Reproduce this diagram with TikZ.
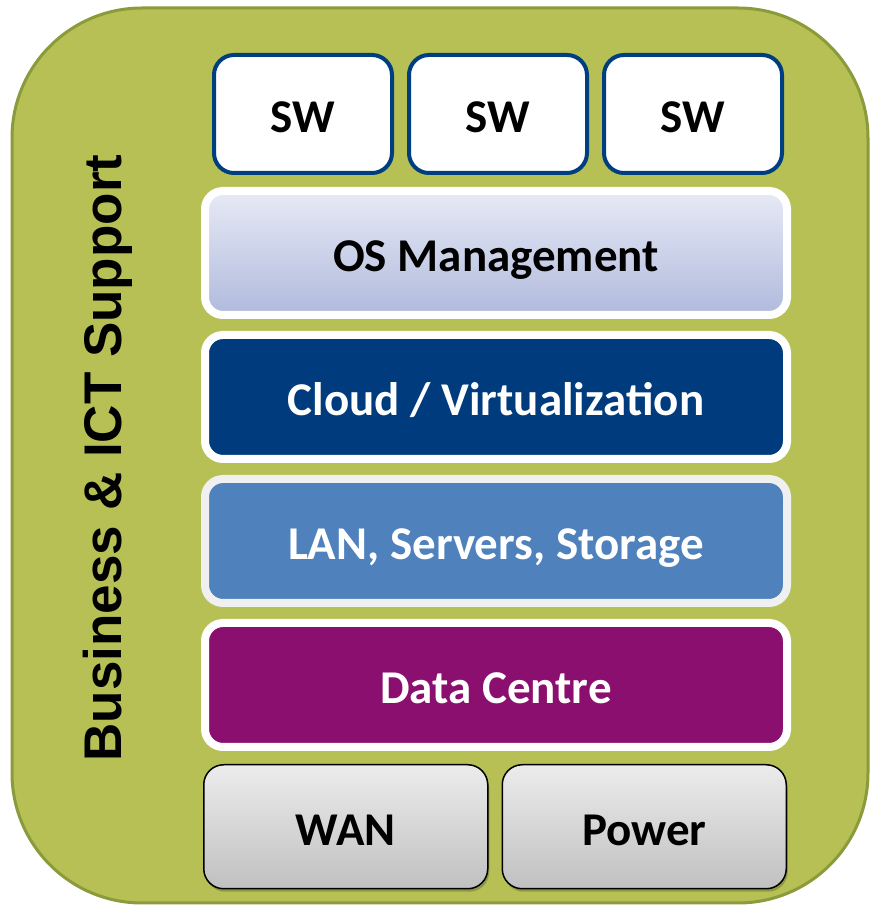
\documentclass[tikz,border=0pt]{standalone}
\usepackage{fontspec}
\setmainfont{Carlito}
\newfontfamily\sidefont{Liberation Sans}
\usetikzlibrary{positioning,shadows}
\definecolor{greenbg}{RGB}{183,192,84}
\definecolor{greenedge}{RGB}{139,154,58}
\definecolor{swedge}{RGB}{0,63,127}
\definecolor{ostop}{RGB}{231,234,245}
\definecolor{osbot}{RGB}{176,186,221}
\definecolor{cloudblue}{RGB}{0,60,125}
\definecolor{lanblue}{RGB}{79,129,189}
\definecolor{lanedge}{RGB}{240,240,240}
\definecolor{dcpurple}{RGB}{139,15,111}
\definecolor{graytop}{RGB}{236,236,236}
\definecolor{graybot}{RGB}{192,192,192}
\definecolor{shadowol}{RGB}{95,105,45}
\tikzset{lshadow/.style={drop shadow={shadow xshift=1.5pt, shadow yshift=-3pt,
    opacity=.45, fill=shadowol}},
  boxtext/.style={font=\bfseries\fontsize{47}{50}\selectfont, text height=38pt, text depth=0pt}}
\tikzstyle{lyr} = [rectangle, draw=white, line width=8pt, rounded corners=18pt,
    minimum width=582pt, minimum height=124pt, boxtext, text=white, lshadow]
\tikzstyle{sw} = [rectangle, draw=swedge, line width=4pt, fill=white, rounded corners=20pt,
    minimum width=178pt, minimum height=118pt, boxtext]
\tikzstyle{base} = [rectangle, draw=black, line width=1.5pt, rounded corners=20pt,
    top color=graytop, bottom color=graybot,
    minimum width=284pt, minimum height=124pt, boxtext, lshadow]

\begin{document}
\begin{tikzpicture}[x=1pt,y=1pt]
  \useasboundingbox (0,0) rectangle (871,906);
  % frame
  \draw[fill=greenbg, draw=greenedge, line width=3pt, rounded corners=130pt]
    (12,3) rectangle (868,898);

  \node[lyr, top color=ostop, bottom color=osbot, text=black] (os) at (496,653) {OS Management};
  \node[sw]   (sw2) [above=12pt of os, xshift=2pt] {SW};
  \node[sw]   (sw1) [left=13pt of sw2] {SW};
  \node[sw]   (sw3) [right=13pt of sw2] {SW};
  \node[lyr, fill=cloudblue] (cloud) [below=12pt of os] {Cloud / Virtualization};
  \node[lyr, fill=lanblue, draw=lanedge] (lan) [below=12pt of cloud] {LAN, Servers, Storage};
  \node[lyr, fill=dcpurple] (dc) [below=12pt of lan] {Data Centre};
  \node[base] (wan) [below=13pt of dc.south west, anchor=north west, xshift=2pt] {WAN};
  \node[base] (power) [right=13pt of wan] {Power};

  \node[rotate=90, font=\sidefont\bfseries\fontsize{53}{56}\selectfont] (side) at (108,448)
    {Business \& ICT Support};
\end{tikzpicture}
\end{document}
